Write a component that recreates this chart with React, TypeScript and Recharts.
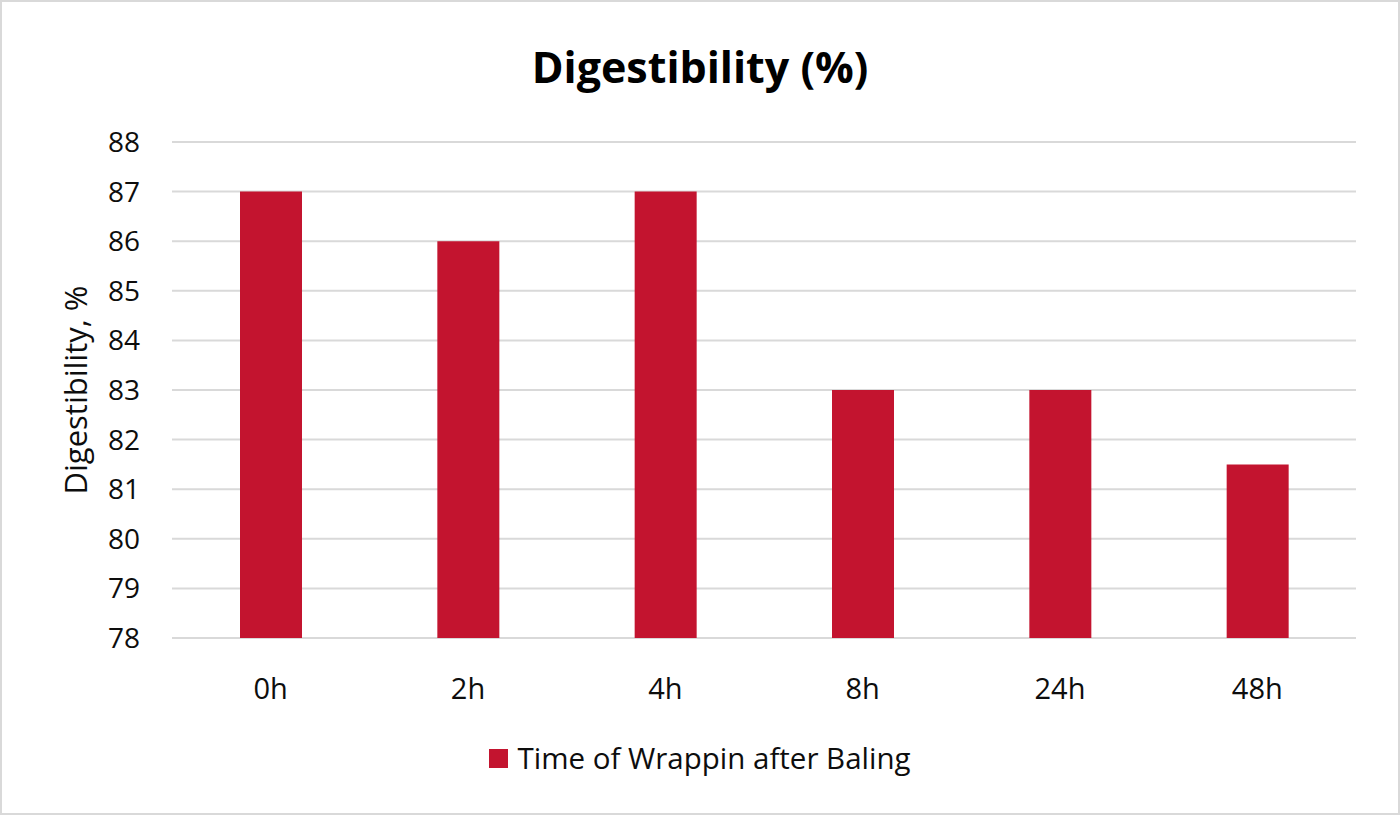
import React from 'react';
import { BarChart, Bar, XAxis, YAxis, CartesianGrid, Legend, Label } from 'recharts';

const categories = ['0h', '2h', '4h', '8h', '24h', '48h'];
const digestibility = [87, 86, 87, 83, 83, 81.5];
const yTicks = [78, 79, 80, 81, 82, 83, 84, 85, 86, 87, 88];
const seriesName = 'Time of Wrappin after Baling';
const chartTitle = 'Digestibility (%)';
const yTitle = 'Digestibility, %';

const data = categories.map((c, i) => ({ name: c, value: digestibility[i] }));

const FONT = '"Open Sans", Calibri, sans-serif';
const RED = '#C3142F';

const renderLegend = (props: any) => {
  const { payload } = props;
  return (
    <div style={{ display: 'flex', justifyContent: 'center', alignItems: 'center', fontFamily: FONT, height: 40 }}>
      {(payload || []).map((p: any, i: number) => (
        <div key={i} style={{ display: 'flex', alignItems: 'center' }}>
          <div style={{ width: 19, height: 19, background: p.color, marginRight: 9 }} />
          <span style={{ fontSize: 29.5, lineHeight: '40px', color: '#0d0d0d' }}>{p.value}</span>
        </div>
      ))}
    </div>
  );
};

export default function App() {
  return (
    <div
      style={{
        position: 'absolute',
        left: 0,
        top: 0,
        width: 1400,
        height: 815,
        boxSizing: 'border-box',
        border: '2px solid #d9d9d9',
        background: '#fff',
        overflow: 'hidden',
      }}
    >
      <div
        style={{
          position: 'absolute',
          left: -2,
          top: 35,
          width: 1400,
          textAlign: 'center',
          fontFamily: FONT,
          fontWeight: 700,
          fontSize: 43,
          lineHeight: '60px',
          color: '#000',
        }}
      >
        {chartTitle}
      </div>
      <div style={{ position: 'absolute', left: -2, top: -2 }}>
        <BarChart
          width={1400}
          height={815}
          data={data}
          margin={{ top: 142, right: 44, bottom: 107, left: 0 }}
        >
          <CartesianGrid vertical={false} stroke="#d9d9d9" strokeWidth={2} />
          <XAxis
            dataKey="name"
            axisLine={false}
            tickLine={false}
            tickSize={0}
            tickMargin={40}
            tick={{ fill: '#0d0d0d', fontSize: 29, fontFamily: FONT }}
          />
          <YAxis
            width={172}
            domain={[78, 88]}
            ticks={yTicks}
            interval={0}
            axisLine={false}
            tickLine={false}
            tickSize={0}
            tickMargin={32}
            tick={{ fill: '#0d0d0d', fontSize: 28, fontFamily: FONT }}
          >
            <Label
              content={(props: any) => {
                const vb = props.viewBox || {};
                const cy = vb.y + vb.height / 2;
                const cx = 75;
                return (
                  <text
                    x={cx}
                    y={cy}
                    transform={`rotate(-90, ${cx}, ${cy})`}
                    textAnchor="middle"
                    dominantBaseline="central"
                    fontFamily={FONT}
                    fontSize={31}
                    fill="#0d0d0d"
                  >
                    {yTitle}
                  </text>
                );
              }}
            />
          </YAxis>
          <Legend
            verticalAlign="bottom"
            content={renderLegend}
            wrapperStyle={{ left: 0, width: 1400, top: 738 }}
          />
          <Bar dataKey="value" name={seriesName} fill={RED} barSize={62} isAnimationActive={false} />
        </BarChart>
      </div>
    </div>
  );
}
